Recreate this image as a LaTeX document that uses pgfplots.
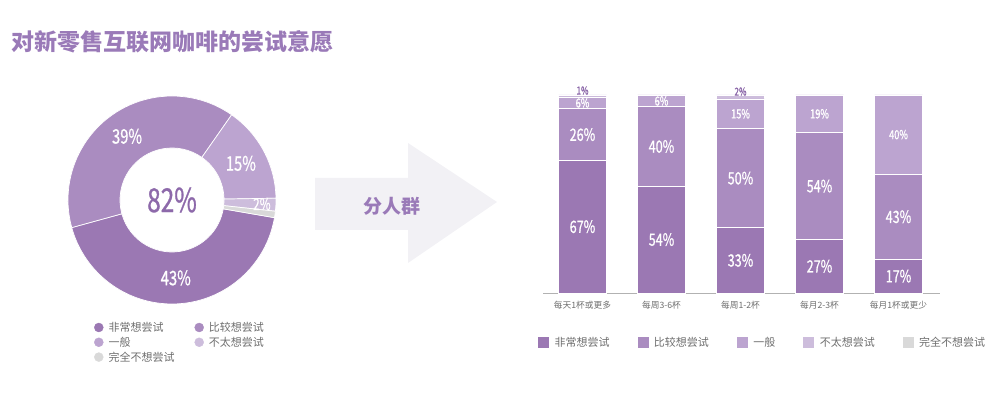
\documentclass[border=0pt]{standalone}
\usepackage{pgfplots}
\pgfplotsset{compat=1.18}
\usepackage{pgfplotstable}
\usepackage{fontspec}
\setmainfont{Noto Sans CJK SC}
\newfontfamily\numfont[FakeStretch=0.74, FakeBold=0.8]{Noto Sans CJK SC}

\definecolor{c1}{HTML}{9B78B3}
\definecolor{c2}{HTML}{AA8CC0}
\definecolor{c3}{HTML}{BCA4D0}
\definecolor{c4}{HTML}{CDBDDC}
\definecolor{c5}{HTML}{D9D9D9}
\definecolor{titlec}{HTML}{9A7AB8}
\definecolor{darkp}{HTML}{8D69AA}
\definecolor{legtxt}{HTML}{6E6E6E}
\definecolor{arrowc}{HTML}{F2F1F5}

% donut: share of each answer, clockwise
\pgfplotstableread{
v col
43 c1
39 c2
15 c3
2 c4
1 c5
}\donut

% stacked bars by drinking frequency
\pgfplotstableread{
x a b c d
0 67 26 6 1
1 54 40 6 0
2 33 50 15 2
3 27 54 19 0
4 17 43 40 0
}\bars

\newcommand\sqimg[1]{\addlegendimage{legend image code/.code={\fill[#1] (0pt,-5pt) rectangle (10pt,5pt);}}}
\newcommand\dotimg[1]{\addlegendimage{legend image code/.code={\fill[#1] (4.5pt,0pt) circle[radius=4.5pt];}}}

\begin{document}
\begin{tikzpicture}
\useasboundingbox (0,0) rectangle (1002pt,411pt);
\node[anchor=west, text=titlec, font=\bfseries\fontsize{23}{26}\selectfont] at (8pt,369pt) {对新零售互联网咖啡的尝试意愿};

% ---- donut ----
\begin{axis}[
  at={(172pt,211pt)}, anchor=center,
  x=1pt, y=1pt, xmin=-110, xmax=110, ymin=-110, ymax=110,
  hide axis, clip=false,
  legend columns=2,
  legend style={draw=none, fill=none, inner sep=0pt, at={(0.145,-0.045)}, anchor=north west,
    font=\fontsize{11}{13}\selectfont, text=legtxt, cells={anchor=west},
    /tikz/every even column/.append style={column sep=18pt},
    /tikz/every odd column/.append style={column sep=3pt}},
]
\def\astart{-9.8}
\foreach \i in {0,...,4}{
  \pgfplotstablegetelem{\i}{v}\of\donut \let\v\pgfplotsretval
  \pgfplotstablegetelem{\i}{col}\of\donut \let\c\pgfplotsretval
  \pgfmathsetmacro\aend{\astart-3.6*\v}
  \pgfmathsetmacro\ox{104*cos(\astart)}\pgfmathsetmacro\oy{104*sin(\astart)}
  \pgfmathsetmacro\ix{52*cos(\aend)}\pgfmathsetmacro\iy{52*sin(\aend)}
  \edef\tmp{\noexpand\fill[\c, draw=white, line width=0.7pt] (axis cs:\ox,\oy) arc[start angle=\astart, end angle=\aend, radius=104pt] -- (axis cs:\ix,\iy) arc[start angle=\aend, end angle=\astart, radius=52pt] -- cycle;}
  \tmp
  \xdef\astart{\aend}
}
\def\astart{-9.8}
\foreach \i in {0,...,4}{
  \pgfplotstablegetelem{\i}{v}\of\donut \let\v\pgfplotsretval
  \pgfmathsetmacro\aend{\astart-3.6*\v}
  \pgfmathsetmacro\amid{(\astart+\aend)/2}
  \ifnum\v<5 \def\lr{90}\def\fs{16}\else\def\lr{78}\def\fs{20}\fi
  \pgfmathsetmacro\lx{\lr*cos(\amid)}\pgfmathsetmacro\ly{\lr*sin(\amid)}
  \ifnum\v>1
    \edef\tmp{\noexpand\node[text=white, font=\noexpand\numfont\noexpand\fontsize{\fs}{\fs}\noexpand\selectfont] at (axis cs:\lx,\ly) {\v\noexpand\%};}
    \tmp
  \fi
  \xdef\astart{\aend}
}
\node[text=darkp, font=\numfont\fontsize{33}{33}\selectfont] at (axis cs:0,0) {82\%};
\dotimg{c1}\addlegendentry{非常想尝试}
\dotimg{c2}\addlegendentry{比较想尝试}
\dotimg{c3}\addlegendentry{一般}
\dotimg{c4}\addlegendentry{不太想尝试}
\dotimg{c5}\addlegendentry{完全不想尝试}
\end{axis}

% ---- arrow ----
\fill[arrowc] (315pt,233pt) -- (408pt,233pt) -- (408pt,268pt) -- (497pt,209pt) -- (408pt,148pt) -- (408pt,181pt) -- (315pt,181pt) -- cycle;
\node[text=titlec, font=\bfseries\fontsize{19}{20}\selectfont] at (392pt,205pt) {分人群};

% ---- stacked bars ----
\begin{axis}[
  at={(543pt,118pt)}, anchor=south west,
  x=79pt, y=1.98pt, xmin=-0.5, xmax=4.53, ymin=0, ymax=100,
  ybar stacked, bar width=48pt,
  axis x line=bottom, axis y line=none,
  x axis line style={draw=gray!60, line width=0.8pt, -},
  xtick={0,...,4},
  xticklabels={每天1杯或更多, 每周3-6杯, 每周1-2杯, 每月2-3杯, 每月1杯或更少},
  ytick=\empty, major tick length=0pt,
  xticklabel style={font=\fontsize{8.7}{10}\selectfont, text=legtxt, yshift=-5pt},
  clip=false,
  point meta=explicit,
  /pgf/number format/assume math mode=true,
  legend columns=5,
  legend style={draw=none, fill=none, inner sep=0pt, at={(-0.0126,-0.25)}, anchor=west,
    font=\fontsize{11}{13}\selectfont, text=legtxt, cells={anchor=west},
    /tikz/every even column/.append style={column sep=26pt},
    /tikz/every odd column/.append style={column sep=4pt}},
]
\addplot[forget plot, fill=c1, draw=white, line width=0.8pt,
  nodes near coords={\pgfmathprintnumber{\pgfplotspointmeta}\%},
  every node near coord/.append style={anchor=center, text=white, font=\numfont\fontsize{17}{17}\selectfont}]
  table[x=x, y=a, meta=a] {\bars};
\addplot[forget plot, fill=c2, draw=white, line width=0.8pt,
  nodes near coords={\pgfmathprintnumber{\pgfplotspointmeta}\%},
  every node near coord/.append style={anchor=center, text=white, font=\numfont\fontsize{17}{17}\selectfont}]
  table[x=x, y=b, meta=b] {\bars};
\addplot[forget plot, fill=c3, draw=white, line width=0.8pt,
  nodes near coords={\pgfmathprintnumber{\pgfplotspointmeta}\%},
  every node near coord/.append style={anchor=center, text=white, font=\numfont\fontsize{12.5}{12.5}\selectfont}]
  table[x=x, y=c, meta=c] {\bars};
\addplot[forget plot, fill=c4, draw=white, line width=0.5pt,
  nodes near coords={\pgfmathfloatifflags{\pgfplotspointmeta}{0}{}{\pgfmathprintnumber{\pgfplotspointmeta}\%}},
  every node near coord/.append style={anchor=south, inner sep=1pt, text=darkp, font=\numfont\fontsize{11}{11}\selectfont}]
  table[x=x, y=d, meta=d] {\bars};
\sqimg{c1}\addlegendentry{非常想尝试}
\sqimg{c2}\addlegendentry{比较想尝试}
\sqimg{c3}\addlegendentry{一般}
\sqimg{c4}\addlegendentry{不太想尝试}
\sqimg{c5}\addlegendentry{完全不想尝试}
\end{axis}
\end{tikzpicture}
\end{document}
